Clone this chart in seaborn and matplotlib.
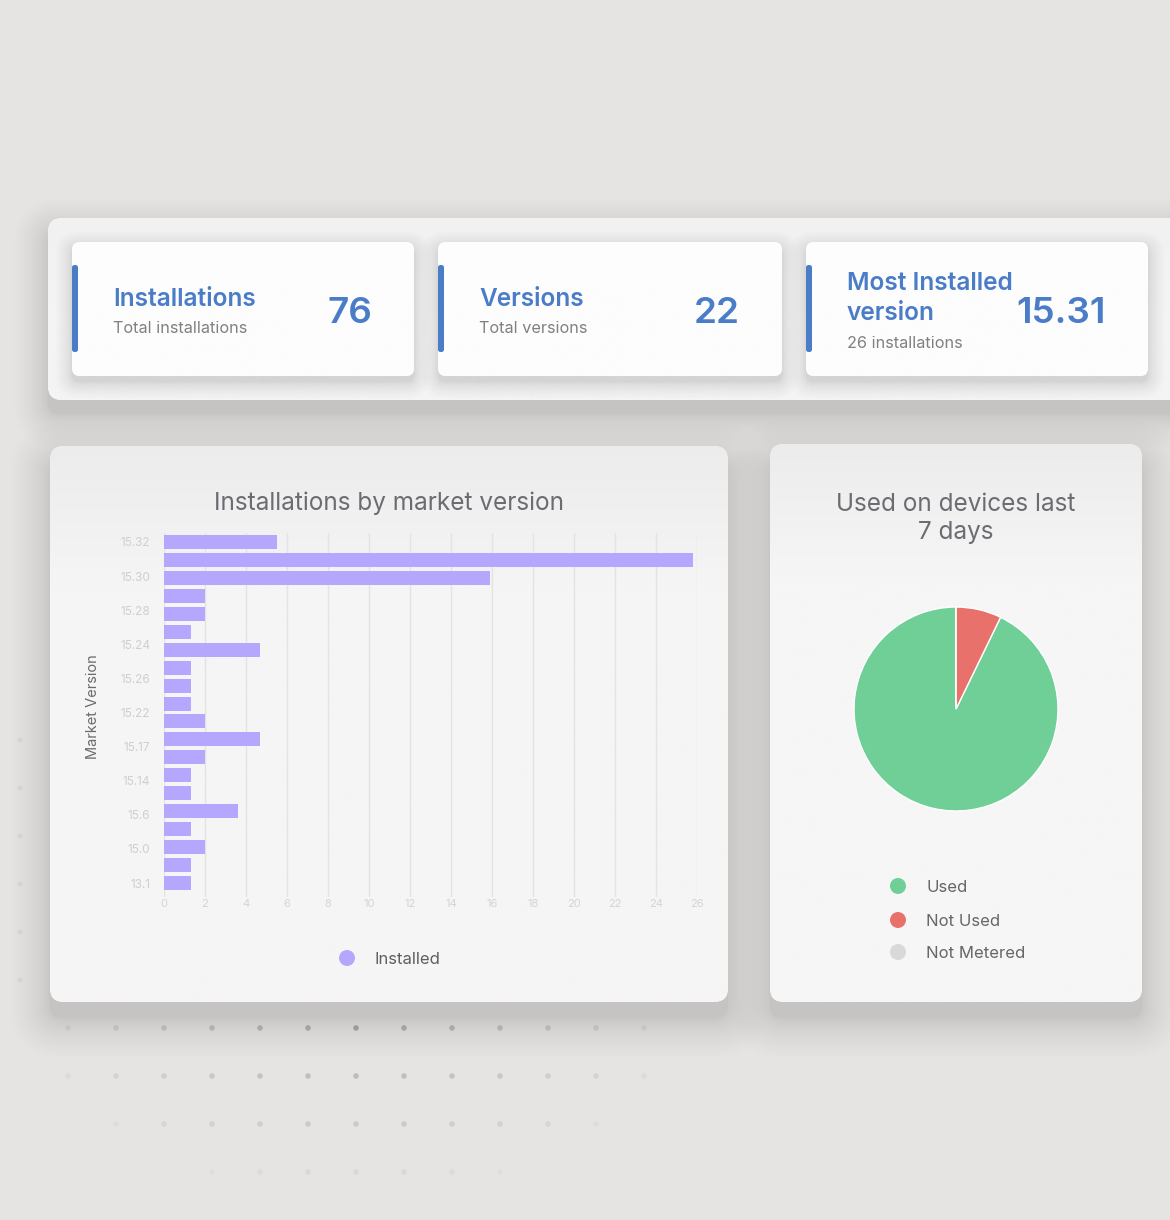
import numpy as np
import pandas as pd
import matplotlib
matplotlib.use("Agg")
import matplotlib.pyplot as plt
import seaborn as sns
from matplotlib.patches import FancyBboxPatch
from matplotlib.colors import to_rgb

# ---------------- data ----------------
kpi_titles = ["Installations", "Versions", "Most Installed\nversion"]
kpi_subtitles = ["Total installations", "Total versions", "26 installations"]
kpi_values = ["76", "22", "15.31"]

bar_rank = list(range(20))
installed = [5.5, 25.8, 15.9, 2, 2, 1.3, 4.7, 1.3, 1.3, 1.3,
             2, 4.7, 2, 1.3, 1.3, 3.6, 1.3, 2, 1.3, 1.3]
version_ticks = ["15.32", "15.30", "15.28", "15.24", "15.26", "15.22",
                 "15.17", "15.14", "15.6", "15.0", "13.1"]
x_ticks = list(range(0, 27, 2))
bar_series = "Installed"

usage_labels = ["Used", "Not Used", "Not Metered"]
usage_values = [92.8, 7.2, 0.0]
usage_colors = ["#6fcf97", "#e8716b", "#d9d9d9"]

# ---------------- style ----------------
sns.set_theme(style="white")
plt.rcParams["font.family"] = ["Inter", "DejaVu Sans"]

W, H = 1170, 1220
BG = "#e5e4e2"
BLUE = "#4a7cc8"
BAR = "#b4a7fd"
TITLE_C = "#6b6b72"
SUB_C = "#808080"

fig = plt.figure(figsize=(W / 100, H / 100), dpi=100)
fig.patch.set_facecolor(BG)
bg = fig.add_axes([0, 0, 1, 1])
bg.set_facecolor(BG)
bg.axis("off")


def soft_shadow(ax, x0, y0, x1, y1, r, spread=24, dy=10, alpha=0.12, n=32, z=1):
    for k in range(n):
        t = (k + 1) / n
        pad = spread * (1 - t) ** 1.6
        p = FancyBboxPatch((x0 - pad, y0 - pad + dy), (x1 - x0) + 2 * pad, (y1 - y0) + 2 * pad,
                           boxstyle=f"round,pad=0,rounding_size={r + pad}",
                           fc="black", ec="none", alpha=alpha / n, zorder=z)
        ax.add_patch(p)


def card(ax, x0, y0, x1, y1, r, c_top, c_bot, frac=0.3, z=2):
    patch = FancyBboxPatch((x0, y0), x1 - x0, y1 - y0,
                           boxstyle=f"round,pad=0,rounding_size={r}",
                           fc=c_bot, ec="none", zorder=z)
    ax.add_patch(patch)
    n = 256
    t = np.clip(np.linspace(0, 1, n) / frac, 0, 1)[:, None, None]
    ct = np.array(to_rgb(c_top))[None, None, :]
    cb = np.array(to_rgb(c_bot))[None, None, :]
    img = ct * (1 - t) + cb * t
    im = ax.imshow(img, extent=(x0, x1, y1, y0), aspect="auto", zorder=z + 0.1,
                   interpolation="bilinear")
    im.set_clip_path(patch)
    return patch


# decorative dot grid
dots_x, dots_y, dots_a = [], [], []
for ry, (xa, xb) in zip([1028, 1076, 1124, 1172], [(68, 644), (68, 644), (68, 596), (164, 548)]):
    for xx in range(xa, xb + 1, 48):
        d = np.hypot(xx - 356, (ry - 1028) * 2.0)
        a = 0.6 * (1 - d / 360)
        if a > 0.03:
            dots_x.append(xx); dots_y.append(ry); dots_a.append(a)
for ry in range(740, 981, 48):
    dots_x.append(20); dots_y.append(ry); dots_a.append(0.10)
cols = np.zeros((len(dots_x), 4))
cols[:, :3] = to_rgb("#8a8a8a")
cols[:, 3] = dots_a
bg.scatter(dots_x, dots_y, s=16, c=cols, edgecolors="none", zorder=0.5)

# top panel
soft_shadow(bg, 48, 218, 1200, 400, 14, spread=36, dy=14, alpha=0.17)
card(bg, 48, 218, 1200, 400, 14, "#f1f1f1", "#f4f4f4", frac=0.5, z=2)

card_x = [(72, 414), (438, 782), (806, 1148)]
for i, (x0, x1) in enumerate(card_x):
    soft_shadow(bg, x0, 242, x1, 376, 8, spread=18, dy=6, alpha=0.08, z=2.5)
    card(bg, x0, 242, x1, 376, 8, "#fefefe", "#fdfdfd", z=3)
    bg.add_patch(FancyBboxPatch((x0, 265), 6, 87, boxstyle="round,pad=0,rounding_size=2.5",
                                fc=BLUE, ec="none", zorder=4))
    tx = x0 + 41
    if "\n" in kpi_titles[i]:
        l1, l2 = kpi_titles[i].split("\n")
        bg.text(tx, 290, l1, color=BLUE, fontsize=17.6, fontweight="semibold", va="baseline", zorder=5)
        bg.text(tx, 320, l2, color=BLUE, fontsize=17.6, fontweight="semibold", va="baseline", zorder=5)
        bg.text(tx, 348, kpi_subtitles[i], color=SUB_C, fontsize=11.7, va="baseline", zorder=5)
    else:
        bg.text(tx, 306, kpi_titles[i], color=BLUE, fontsize=17.6, fontweight="semibold", va="baseline", zorder=5)
        bg.text(tx, 333, kpi_subtitles[i], color=SUB_C, fontsize=11.7, va="baseline", zorder=5)
    bg.text(x1 - 42, 323, kpi_values[i], color=BLUE, fontsize=26.5, fontweight="semibold",
            ha="right", va="baseline", zorder=5)

# bottom cards
soft_shadow(bg, 50, 446, 728, 1002, 14, spread=42, dy=16, alpha=0.13)
card(bg, 50, 446, 728, 1002, 14, "#ececec", "#f6f5f5", frac=0.25, z=2)
soft_shadow(bg, 770, 444, 1142, 1002, 14, spread=42, dy=16, alpha=0.12)
card(bg, 770, 444, 1142, 1002, 14, "#ececec", "#f6f6f6", frac=0.25, z=2)

# legends (manual, from the data lists)
bg.scatter([347], [958], s=132, color=BAR, edgecolors="none", zorder=5)
bg.text(375, 960, bar_series, color="#5f5f5f", fontsize=12, va="center", zorder=5)
for i, (lab, c) in enumerate(zip(usage_labels, usage_colors)):
    yy = [886, 920, 952][i]
    bg.scatter([898], [yy], s=132, color=c, edgecolors="none", zorder=5)
    bg.text(926, yy + 2, lab, color="#666666", fontsize=12, va="center", zorder=5)

bg.set_xlim(0, W)
bg.set_ylim(H, 0)

# ---------------- bar chart ----------------
top, bot = 533, 896.5
ax = fig.add_axes([164 / W, 1 - bot / H, (697 - 164) / W, (bot - top) / H])
ax.set_facecolor("none")
df = pd.DataFrame({"rank": bar_rank, "installed": installed})
sns.barplot(data=df, x="installed", y="rank", orient="h", color=BAR, saturation=1,
            width=0.78, ax=ax, zorder=3, linewidth=0, edgecolor="none")
ax.set_xlim(0, 26)
ax.set_ylim(19.75, -0.5)
ax.set_xticks(x_ticks)
ax.set_xticklabels([str(v) for v in x_ticks], fontsize=8, color="#d4d4d4")
ax.set_yticks(np.linspace(0, 19, len(version_ticks)))
ax.set_yticklabels(version_ticks, fontsize=8.5, color="#cfcfcf")
ax.tick_params(axis="y", length=0, pad=10)
ax.tick_params(axis="x", length=0, pad=1.5)
ax.grid(axis="x", color="#e3e3e3", lw=1, zorder=0)
ax.grid(axis="y", visible=False)
ax.set_axisbelow(True)
for s in ax.spines.values():
    s.set_visible(False)
ax.set_xlabel("")
ax.set_ylabel("Market Version", fontsize=10.5, color="#6a6a6a")
ax.yaxis.set_label_coords(-0.12, 0.521)
ax.set_title("Installations by market version", fontsize=17.5, color=TITLE_C,
             x=(389 - 164) / 533, y=1 + (top - 510) / (bot - top), pad=0, va="baseline")

# ---------------- pie chart ----------------
cx, cy, R = 956, 709, 103
ax2 = fig.add_axes([(cx - R) / W, 1 - (cy + R) / H, 2 * R / W, 2 * R / H])
ax2.pie(usage_values, colors=usage_colors, startangle=90, counterclock=True,
        wedgeprops=dict(edgecolor="white", linewidth=1))
ax2.set_xlim(-1.01, 1.01)
ax2.set_ylim(-1.01, 1.01)
ax2.set_aspect("equal")
ax2.set_title("Used on devices last\n7 days", fontsize=17.5, color=TITLE_C,
              y=1 + ((cy - R) - 544) / (2 * R), pad=0, va="bottom", linespacing=1.3)

fig.savefig("out.png", dpi=100, facecolor=BG)
